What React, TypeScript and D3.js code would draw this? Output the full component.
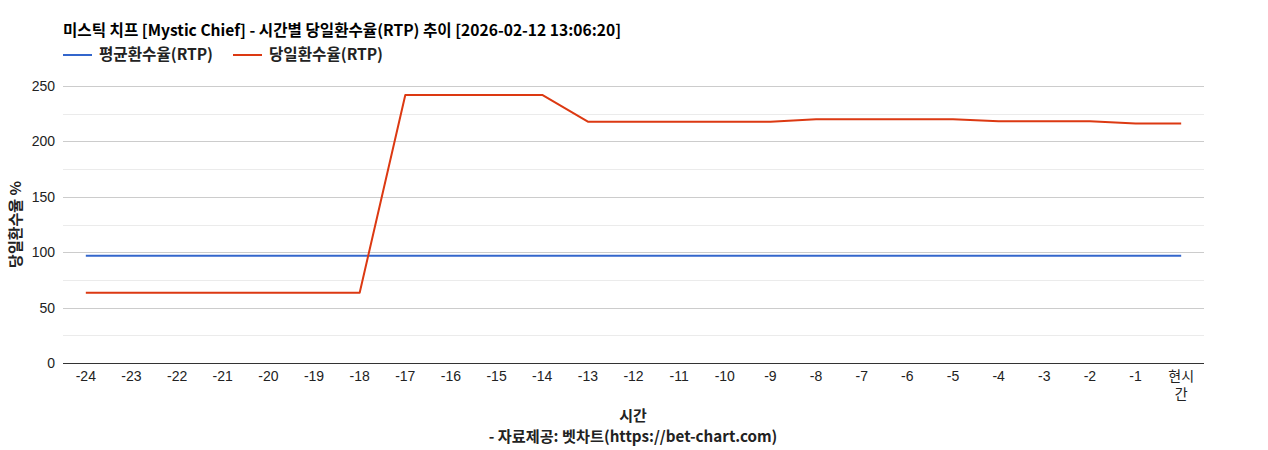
import React, { useRef, useEffect } from "react";
import * as d3 from "d3";

const W = 1268;
const H = 450;

const hours = ["-24", "-23", "-22", "-21", "-20", "-19", "-18", "-17", "-16", "-15", "-14", "-13", "-12", "-11", "-10", "-9", "-8", "-7", "-6", "-5", "-4", "-3", "-2", "-1", "현시간"];
const avgRtp = [96.7, 96.7, 96.7, 96.7, 96.7, 96.7, 96.7, 96.7, 96.7, 96.7, 96.7, 96.7, 96.7, 96.7, 96.7, 96.7, 96.7, 96.7, 96.7, 96.7, 96.7, 96.7, 96.7, 96.7, 96.7];
const dayRtp = [63.4, 63.4, 63.4, 63.4, 63.4, 63.4, 63.4, 241.9, 241.9, 241.9, 241.9, 217.8, 217.8, 217.8, 217.8, 217.8, 219.9, 219.9, 219.9, 219.9, 218.1, 218.1, 218.1, 216.2, 216.2];
const yTicks = [0, 50, 100, 150, 200, 250];
const yMinorTicks = [25, 75, 125, 175, 225];

const titleText = "미스틱 치프 [Mystic Chief] - 시간별 당일환수율(RTP) 추이 [2026-02-12 13:06:20]";
const seriesNames = ["평균환수율(RTP)", "당일환수율(RTP)"];
const seriesColors = ["#3366cc", "#dc3912"];

const FONT = "Arial, 'Liberation Sans', 'Noto Sans CJK KR', sans-serif";
const KFONT = "'Noto Sans CJK KR', 'Noto Sans', sans-serif";

export default function App() {
  const svgRef = useRef<SVGSVGElement>(null);

  useEffect(() => {
    if (!svgRef.current) return;
    const svg = d3.select(svgRef.current);
    svg.selectAll("*").remove();

    const left = 63, right = 1204, top = 86, bottom = 363;

    const x = d3.scalePoint<string>().domain(hours).range([left, right]).padding(0.5);
    const y = d3.scaleLinear().domain([0, 250]).range([bottom, top]);

    // minor gridlines
    svg.append("g").selectAll("line").data(yMinorTicks).enter().append("line")
      .attr("x1", left).attr("x2", right)
      .attr("y1", d => Math.round(y(d)) + 0.5).attr("y2", d => Math.round(y(d)) + 0.5)
      .attr("stroke", "#ebebeb").attr("stroke-width", 1);

    // major gridlines
    svg.append("g").selectAll("line").data(yTicks.filter(d => d !== 0)).enter().append("line")
      .attr("x1", left).attr("x2", right)
      .attr("y1", d => Math.round(y(d)) + 0.5).attr("y2", d => Math.round(y(d)) + 0.5)
      .attr("stroke", "#cccccc").attr("stroke-width", 1);

    // y tick labels
    svg.append("g").selectAll("text").data(yTicks).enter().append("text")
      .attr("x", left - 8).attr("y", d => y(d) + 5)
      .attr("text-anchor", "end")
      .attr("font-family", FONT).attr("font-size", 14).attr("fill", "#222")
      .text(d => d);

    // x tick labels
    const xl = svg.append("g");
    hours.forEach(h => {
      const t = xl.append("text")
        .attr("x", x(h)!).attr("y", 381)
        .attr("text-anchor", "middle")
        .attr("font-family", FONT).attr("font-size", 14).attr("fill", "#222");
      if (h === "현시간") {
        t.append("tspan").attr("x", x(h)!).attr("dy", 0).text("현시");
        t.append("tspan").attr("x", x(h)!).attr("dy", 18).text("간");
      } else {
        t.text(h);
      }
    });

    // lines
    const series = [avgRtp, dayRtp];
    series.forEach((vals, i) => {
      const line = d3.line<number>()
        .x((_, j) => x(hours[j])!)
        .y(d => y(d));
      svg.append("path")
        .datum(vals)
        .attr("d", line)
        .attr("fill", "none")
        .attr("stroke", seriesColors[i])
        .attr("stroke-width", 2)
        .attr("stroke-linejoin", "round");
    });

    // baseline
    svg.append("line")
      .attr("x1", left).attr("x2", right)
      .attr("y1", bottom + 0.5).attr("y2", bottom + 0.5)
      .attr("stroke", "#333").attr("stroke-width", 1);

    // title
    svg.append("text")
      .attr("x", left).attr("y", 36)
      .attr("font-family", KFONT).attr("font-size", 15.6).attr("font-weight", "bold").attr("fill", "#000")
      .text(titleText);

    // legend
    const legendX = [63, 233];
    seriesNames.forEach((name, i) => {
      const g = svg.append("g");
      g.append("line")
        .attr("x1", legendX[i]).attr("x2", legendX[i] + 29)
        .attr("y1", 55).attr("y2", 55)
        .attr("stroke", seriesColors[i]).attr("stroke-width", 2);
      g.append("text")
        .attr("x", legendX[i] + 36).attr("y", 60)
        .attr("font-family", KFONT).attr("font-size", 15.6).attr("font-weight", "bold").attr("fill", "#222")
        .text(name);
    });

    // axis titles
    svg.append("text")
      .attr("x", 633).attr("y", 421)
      .attr("text-anchor", "middle")
      .attr("font-family", KFONT).attr("font-size", 15).attr("font-weight", "bold").attr("fill", "#222")
      .text("시간");
    svg.append("text")
      .attr("x", 633).attr("y", 442)
      .attr("text-anchor", "middle")
      .attr("font-family", KFONT).attr("font-size", 15.2).attr("font-weight", "bold").attr("fill", "#222")
      .text("- 자료제공: 벳차트(https://bet-chart.com)");
    svg.append("text")
      .attr("transform", `translate(21,${(top + bottom) / 2}) rotate(-90)`)
      .attr("text-anchor", "middle")
      .attr("font-family", KFONT).attr("font-size", 15).attr("font-weight", "bold").attr("fill", "#222")
      .text("당일환수율 %");
  }, []);

  return (
    <svg
      ref={svgRef}
      width={W}
      height={H}
      style={{ position: "absolute", left: 0, top: 0, background: "#fff" }}
    />
  );
}
